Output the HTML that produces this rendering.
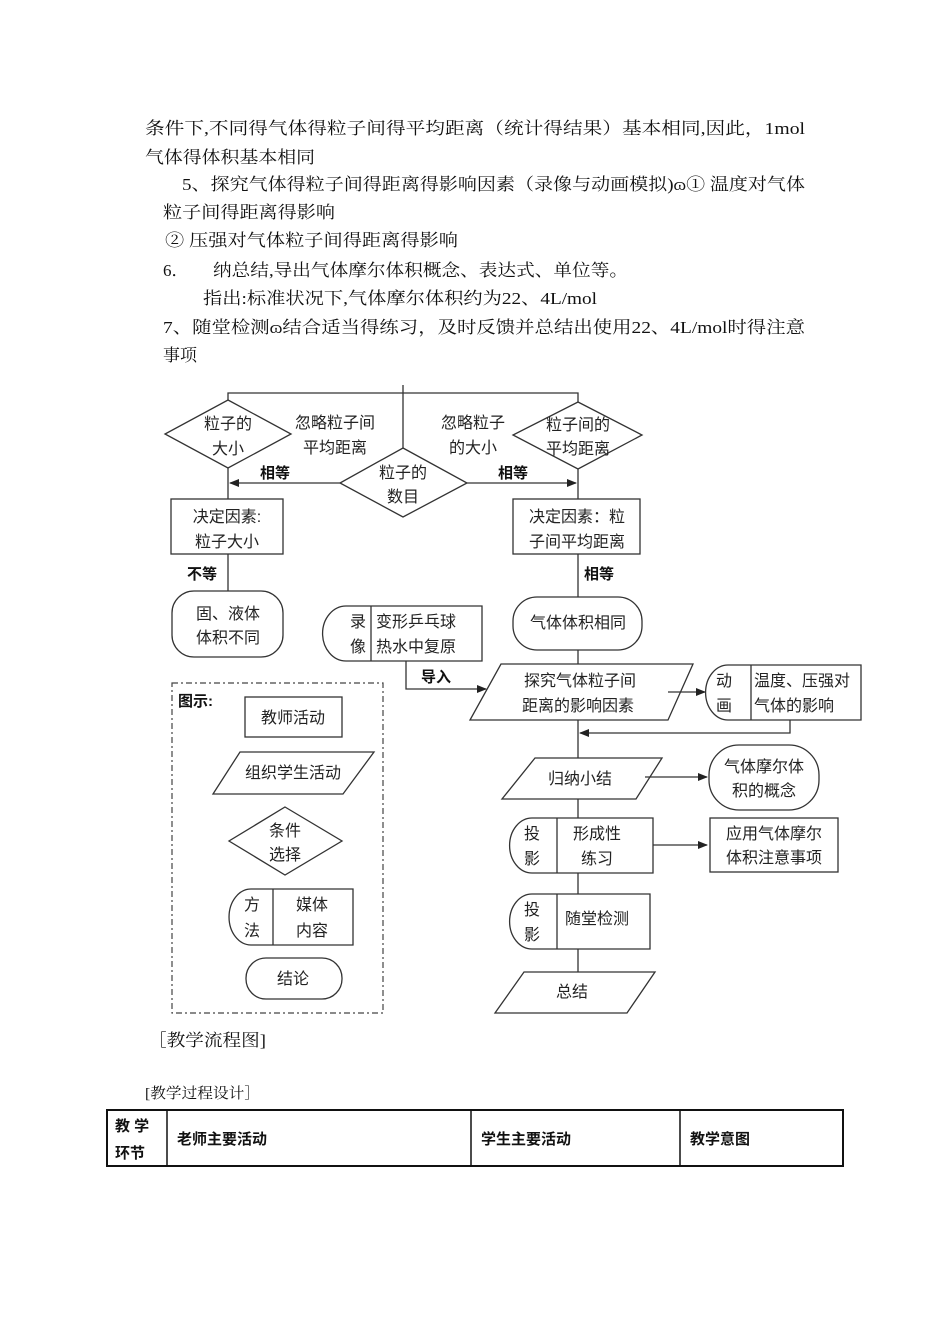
<!DOCTYPE html>
<html><head><meta charset="utf-8"><style>
body{margin:0;background:#fff;}
svg{display:block}
.t{font-family:"Liberation Serif","Noto Serif CJK SC",serif;font-size:17px;fill:#111}
.d{font-family:"Liberation Sans","Noto Sans CJK SC",sans-serif;font-size:16px;fill:#222}
.b{font-family:"Liberation Sans","Noto Sans CJK SC",sans-serif;font-size:15px;font-weight:bold;fill:#111}
.s{fill:#fff;stroke:#333;stroke-width:1.3}
.l{stroke:#333;stroke-width:1.3;fill:none}
</style></head><body>
<svg width="950" height="1344" xmlns="http://www.w3.org/2000/svg">
<defs><marker id="a" markerWidth="10" markerHeight="10" refX="9" refY="5" orient="auto" markerUnits="userSpaceOnUse"><path d="M0,1 L10,5 L0,9 z" fill="#222"/></marker></defs>
<g class="t">
<text x="145" y="134" textLength="660" lengthAdjust="spacingAndGlyphs">条件下,不同得气体得粒子间得平均距离（统计得结果）基本相同,因此，1mol</text>
<text x="145" y="163" textLength="170" lengthAdjust="spacingAndGlyphs">气体得体积基本相同</text>
<text x="182" y="190" textLength="623" lengthAdjust="spacingAndGlyphs">5、探究气体得粒子间得距离得影响因素（录像与动画模拟)ɷ① 温度对气体</text>
<text x="163" y="218" textLength="172" lengthAdjust="spacingAndGlyphs">粒子间得距离得影响</text>
<text x="165" y="246" textLength="293" lengthAdjust="spacingAndGlyphs">② 压强对气体粒子间得距离得影响</text>
<text x="163" y="276">6．</text>
<text x="213" y="276" textLength="415" lengthAdjust="spacingAndGlyphs">纳总结,导出气体摩尔体积概念、表达式、单位等。</text>
<text x="203" y="304" textLength="394" lengthAdjust="spacingAndGlyphs">指出:标准状况下,气体摩尔体积约为22、4L/mol</text>
<text x="163" y="333" textLength="642" lengthAdjust="spacingAndGlyphs">7、随堂检测ɷ结合适当得练习，及时反馈并总结出使用22、4L/mol时得注意</text>
<text x="163" y="361">事项</text>
<text x="148" y="1046" textLength="118" lengthAdjust="spacingAndGlyphs">［教学流程图]</text>
<text x="145" y="1098" font-size="15" textLength="115" lengthAdjust="spacingAndGlyphs">[教学过程设计］</text>
</g>
<!-- top connectors -->
<path class="l" d="M403,385 V448 M228,400 V393 H578 V402"/>
<polygon class="s" points="228,400 291,434 228,468 165,434"/>
<polygon class="s" points="578,402 642,435 578,469 513,435"/>
<polygon class="s" points="403,448 467,483 403,517 340,483"/>
<path class="l" d="M340,483 H230" marker-end="url(#a)"/>
<path class="l" d="M467,483 H576" marker-end="url(#a)"/>
<path class="l" d="M228,468 V499 M228,554 V591 M578,469 V499 M578,554 V597 M578,650 V664 M578,720 V758 M578,799 V818 M578,873 V894 M578,949 V972"/>
<g class="d" text-anchor="middle">
<text x="228" y="429">粒子的</text><text x="228" y="454">大小</text>
<text x="578" y="430">粒子间的</text><text x="578" y="454">平均距离</text>
<text x="403" y="478">粒子的</text><text x="403" y="502">数目</text>
<text x="335" y="428">忽略粒子间</text><text x="335" y="453">平均距离</text>
<text x="473" y="428">忽略粒子</text><text x="473" y="453">的大小</text>
</g>
<text class="b" x="260" y="478">相等</text>
<text class="b" x="498" y="478">相等</text>
<text class="b" x="187" y="579">不等</text>
<text class="b" x="584" y="579">相等</text>
<rect class="s" x="171" y="499" width="112" height="55"/>
<rect class="s" x="513" y="499" width="127" height="55"/>
<g class="d" text-anchor="middle">
<text x="227" y="522">决定因素:</text><text x="227" y="547">粒子大小</text>
<text x="577" y="522">决定因素：粒</text><text x="577" y="547">子间平均距离</text>
</g>
<rect class="s" x="172" y="591" width="111" height="66" rx="22"/>
<text class="d" x="228" y="619" text-anchor="middle">固、液体</text>
<text class="d" x="228" y="643" text-anchor="middle">体积不同</text>
<rect class="s" x="513" y="597" width="129" height="53" rx="24"/>
<text class="d" x="578" y="628" text-anchor="middle">气体体积相同</text>
<!-- video box -->
<path class="s" d="M346,606 H482 V661 H346 A23,27 0 0 1 346,606 z"/>
<path class="l" d="M371,606 V661"/>
<text class="d" x="350" y="627">录</text><text class="d" x="350" y="652">像</text>
<text class="d" x="376" y="627">变形乒乓球</text><text class="d" x="376" y="652">热水中复原</text>
<path class="l" d="M406,661 V689 H486" marker-end="url(#a)"/>
<text class="b" x="421" y="682">导入</text>
<!-- para1 -->
<polygon class="s" points="501,664 693,664 668,720 470,720"/>
<text class="d" x="580" y="686" text-anchor="middle">探究气体粒子间</text>
<text class="d" x="578" y="711" text-anchor="middle">距离的影响因素</text>
<path class="l" d="M668,692 H705" marker-end="url(#a)"/>
<path class="s" d="M728,665 H861 V720 H728 A22,27 0 0 1 728,665 z"/>
<path class="l" d="M751,665 V720"/>
<text class="d" x="716" y="686">动</text><text class="d" x="716" y="711">画</text>
<text class="d" x="754" y="686">温度、压强对</text><text class="d" x="754" y="711">气体的影响</text>
<path class="l" d="M790,720 V733 H580" marker-end="url(#a)"/>
<!-- para2 -->
<polygon class="s" points="535,758 662,758 636,799 502,799"/>
<text class="d" x="580" y="784" text-anchor="middle">归纳小结</text>
<path class="l" d="M645,777 H707" marker-end="url(#a)"/>
<rect class="s" x="709" y="745" width="110" height="65" rx="30"/>
<text class="d" x="764" y="772" text-anchor="middle">气体摩尔体</text>
<text class="d" x="764" y="796" text-anchor="middle">积的概念</text>
<!-- touying 1 -->
<path class="s" d="M532,818 H653 V873 H532 A22,27 0 0 1 532,818 z"/>
<path class="l" d="M557,818 V873"/>
<text class="d" x="524" y="839">投</text><text class="d" x="524" y="864">影</text>
<text class="d" x="597" y="839" text-anchor="middle">形成性</text><text class="d" x="597" y="864" text-anchor="middle">练习</text>
<path class="l" d="M653,845 H707" marker-end="url(#a)"/>
<rect class="s" x="710" y="818" width="128" height="54"/>
<text class="d" x="774" y="839" text-anchor="middle">应用气体摩尔</text>
<text class="d" x="774" y="863" text-anchor="middle">体积注意事项</text>
<path class="s" d="M532,894 H650 V949 H532 A22,27 0 0 1 532,894 z"/>
<path class="l" d="M557,894 V949"/>
<text class="d" x="524" y="915">投</text><text class="d" x="524" y="940">影</text>
<text class="d" x="597" y="924" text-anchor="middle">随堂检测</text>
<polygon class="s" points="524,972 655,972 627,1013 495,1013"/>
<text class="d" x="572" y="997" text-anchor="middle">总结</text>
<!-- legend -->
<rect x="172" y="683" width="211" height="330" fill="none" stroke="#444" stroke-width="1.2" stroke-dasharray="6,3,2,3"/>
<text class="b" x="178" y="706" font-size="17">图示:</text>
<rect class="s" x="245" y="697" width="97" height="40"/>
<text class="d" x="293" y="723" text-anchor="middle">教师活动</text>
<polygon class="s" points="240,752 374,752 343,794 213,794"/>
<text class="d" x="293" y="778" text-anchor="middle">组织学生活动</text>
<polygon class="s" points="285,807 342,841 285,875 229,841"/>
<text class="d" x="285" y="836" text-anchor="middle">条件</text>
<text class="d" x="285" y="860" text-anchor="middle">选择</text>
<path class="s" d="M251,889 H353 V945 H251 A22,28 0 0 1 251,889 z"/>
<path class="l" d="M273,889 V945"/>
<text class="d" x="244" y="910">方</text><text class="d" x="244" y="936">法</text>
<text class="d" x="312" y="910" text-anchor="middle">媒体</text><text class="d" x="312" y="936" text-anchor="middle">内容</text>
<rect class="s" x="246" y="958" width="96" height="41" rx="20"/>
<text class="d" x="293" y="984" text-anchor="middle">结论</text>
<!-- table -->
<rect x="107" y="1110" width="736" height="56" fill="none" stroke="#111" stroke-width="2"/>
<path d="M167,1110 V1166 M471,1110 V1166 M680,1110 V1166" stroke="#111" stroke-width="1.5"/>
<g class="b" font-size="16">
<text x="115" y="1131">教 学</text><text x="115" y="1158">环节</text>
<text x="177" y="1144">老师主要活动</text>
<text x="481" y="1144">学生主要活动</text>
<text x="690" y="1144">教学意图</text>
</g>
</svg>
</body></html>
